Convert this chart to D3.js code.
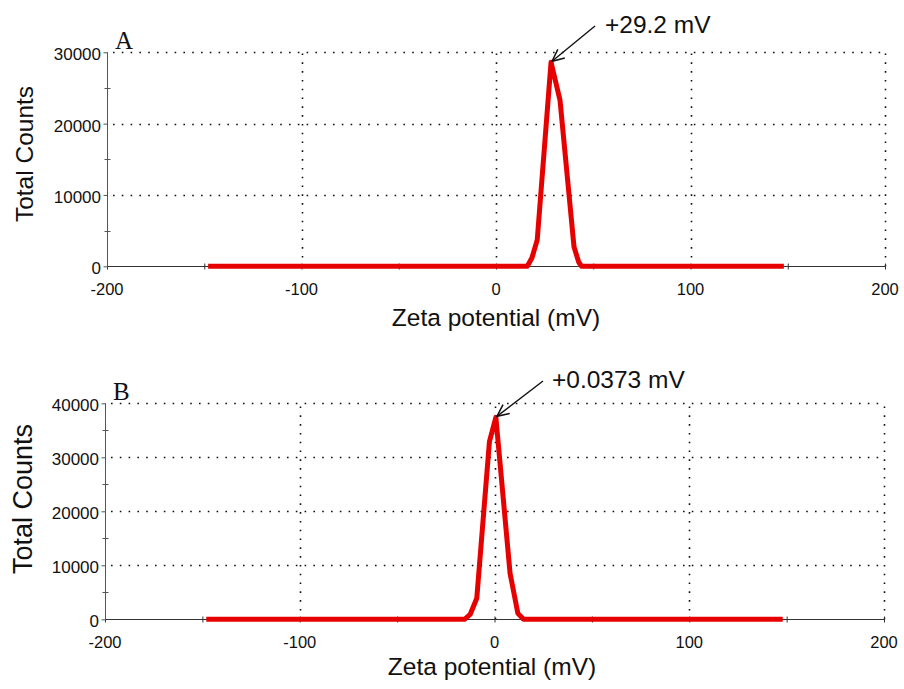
<!DOCTYPE html>
<html>
<head>
<meta charset="utf-8">
<script src="https://cdn.jsdelivr.net/npm/d3@7"></script>
<style>
  body { margin: 0; background: #fff; }
  svg { display: block; }
  text { font-family: "Liberation Sans", Arial, sans-serif; fill: #111; }
  .panelTag { font-family: "Liberation Serif", "Times New Roman", serif; }
</style>
</head>
<body>
<div id="chart"></div>
<script>
/* valeurs */
let xTicks = [-200, -100, 0, 100, 200];
let xMinorTicks = [-200, -150, -100, -50, 0, 50, 100, 150, 200];

/* panneau A */
let potA = [-148, 16.1, 18.5, 21.2, 28.3, 32.9, 40.1, 42.5, 44.0, 148];
let countsA = [0, 0, 1200, 3700, 28600, 23300, 2750, 600, 0, 0];
let yTicksA = [0, 10000, 20000, 30000];
let yMinorA = [5000, 15000, 25000];
let peakA = '+29.2 mV';

/* panneau B */
let potB = [-148, -15.4, -12.5, -9.1, -2.6, 0.7, 8.0, 12.0, 14.9, 148];
let countsB = [0, 0, 900, 3900, 32900, 37400, 8500, 1100, 0, 0];
let yTicksB = [0, 10000, 20000, 30000, 40000];
let yMinorB = [5000, 15000, 25000, 35000];
let peakB = '+0.0373 mV';

let width = 904,
    height = 689;

let svg = d3.select('#chart').
append('svg').
attr('width', width).
attr('height', height);

/* fleche ouverte */
let defs = svg.append('defs');
defs.append('marker').
attr('id', 'arrow').
attr('viewBox', '0 0 14 14').
attr('refX', 13).
attr('refY', 7).
attr('markerWidth', 14).
attr('markerHeight', 14).
attr('markerUnits', 'userSpaceOnUse').
attr('orient', 'auto').
append('path').
attr('d', 'M1,1.5 L13,7 L1,12.5').
attr('fill', 'none').
attr('stroke', '#111').
attr('stroke-width', 1.5);

function drawPanel(p) {
  let xScale = d3.scaleLinear().domain([-200, 200]).range([p.left, p.right]);
  let yScale = d3.scaleLinear().domain([0, p.yMax]).range([p.bottom, p.top]);
  let g = svg.append('g');

  /* grille pointillée */
  g.selectAll('.vgrid').
  data(xTicks.slice(1)).
  enter().
  append('line').
  attr('x1', d => Math.round(xScale(d)) + 0.5).
  attr('x2', d => Math.round(xScale(d)) + 0.5).
  attr('y1', yScale(0)).
  attr('y2', yScale(p.yMax)).
  attr('stroke', '#111').
  attr('stroke-width', 1.6).
  attr('stroke-dasharray', '1.6,7.2');

  g.selectAll('.hgrid').
  data(p.yTicks.slice(1)).
  enter().
  append('line').
  attr('x1', xScale(-200) + 6).
  attr('x2', xScale(200)).
  attr('y1', d => Math.round(yScale(d)) + 0.5).
  attr('y2', d => Math.round(yScale(d)) + 0.5).
  attr('stroke', '#111').
  attr('stroke-width', 1.6).
  attr('stroke-dasharray', '1.6,7.2');

  /* axes */
  let xAxis = d3.axisBottom(xScale).tickValues(xMinorTicks).tickSize(3).tickFormat('');
  let gx = g.append('g').
  attr('transform', 'translate(0,' + (Math.round(yScale(0)) + 0.5) + ')').
  call(xAxis);
  gx.select('.domain').attr('d', 'M' + xScale(-200) + ',0H' + xScale(200)).attr('stroke', '#333');
  gx.selectAll('.tick line').attr('y1', -3).attr('y2', 3).attr('stroke', '#333');

  g.selectAll('.xlab').
  data(xTicks).
  enter().
  append('text').
  attr('x', d => xScale(d)).
  attr('y', yScale(0) + 29).
  attr('text-anchor', 'middle').
  style('font-size', '16.5px').
  text(d => d);

  let yAxis = d3.axisLeft(yScale).tickValues(p.yTicks).tickSize(4).tickFormat('');
  let gy = g.append('g').
  attr('transform', 'translate(' + (Math.round(xScale(-200)) + 0.5) + ',0)').
  call(yAxis);
  gy.select('.domain').attr('d', 'M0,' + yScale(p.yMax) + 'V' + (yScale(0) + 1)).attr('stroke', '#555');
  gy.selectAll('.tick line').attr('stroke', '#555');

  gy.selectAll('.minor').
  data(p.yMinor).
  enter().
  append('line').
  attr('x1', -3).
  attr('x2', 3).
  attr('y1', d => Math.round(yScale(d)) + 0.5).
  attr('y2', d => Math.round(yScale(d)) + 0.5).
  attr('stroke', '#555');

  g.selectAll('.ylab').
  data(p.yTicks).
  enter().
  append('text').
  attr('x', xScale(-200) - 6).
  attr('y', d => yScale(d) + 2).
  attr('dy', '0.35em').
  attr('text-anchor', 'end').
  style('font-size', '17px').
  text(d => d);

  /* titres des axes */
  g.append('text').
  attr('x', p.xTitleX).
  attr('y', p.xTitleY).
  attr('text-anchor', 'middle').
  style('font-size', '24.5px').
  text('Zeta potential (mV)');

  g.append('text').
  attr('transform', 'translate(' + p.yTitleX + ',' + p.yTitleY + ') rotate(-90)').
  attr('text-anchor', 'middle').
  style('font-size', p.yTitleSize + 'px').
  text('Total Counts');

  /* lettre du panneau */
  g.append('text').
  attr('class', 'panelTag').
  attr('x', xScale(-200) + 8).
  attr('y', p.tagY).
  style('font-size', '25px').
  text(p.tag);

  /* courbe rouge */
  let line = d3.line().
  x((d, i) => xScale(p.pot[i])).
  y(d => yScale(d));

  g.append('path').
  datum(p.counts).
  attr('d', line).
  attr('fill', 'none').
  attr('stroke', '#e60000').
  attr('stroke-width', 5).
  attr('stroke-linejoin', 'round');

  /* annotation du pic */
  let iMax = d3.maxIndex(p.counts);
  let px = xScale(p.pot[iMax]),
      py = yScale(p.counts[iMax]);
  g.append('line').
  attr('x1', p.arrowFrom[0]).
  attr('y1', p.arrowFrom[1]).
  attr('x2', px + 1).
  attr('y2', py - 1).
  attr('stroke', '#111').
  attr('stroke-width', 1.4).
  attr('marker-end', 'url(#arrow)');

  g.append('text').
  attr('x', p.labelX).
  attr('y', p.labelY).
  style('font-size', '24.5px').
  text(p.peak);
}

drawPanel({
  left: 107, right: 885, top: 52.3, bottom: 266.3, yMax: 30000,
  yTicks: yTicksA, yMinor: yMinorA, pot: potA, counts: countsA,
  xTitleX: 496, xTitleY: 326, yTitleX: 33, yTitleY: 154, yTitleSize: 24.5,
  tag: 'A', tagY: 49, peak: peakA, arrowFrom: [595, 26], labelX: 605, labelY: 33
});

drawPanel({
  left: 105, right: 884, top: 403.3, bottom: 619.3, yMax: 40000,
  yTicks: yTicksB, yMinor: yMinorB, pot: potB, counts: countsB,
  xTitleX: 492, xTitleY: 675, yTitleX: 32, yTitleY: 499, yTitleSize: 27,
  tag: 'B', tagY: 400, peak: peakB, arrowFrom: [543, 381], labelX: 552, labelY: 388
});
</script>
</body>
</html>
